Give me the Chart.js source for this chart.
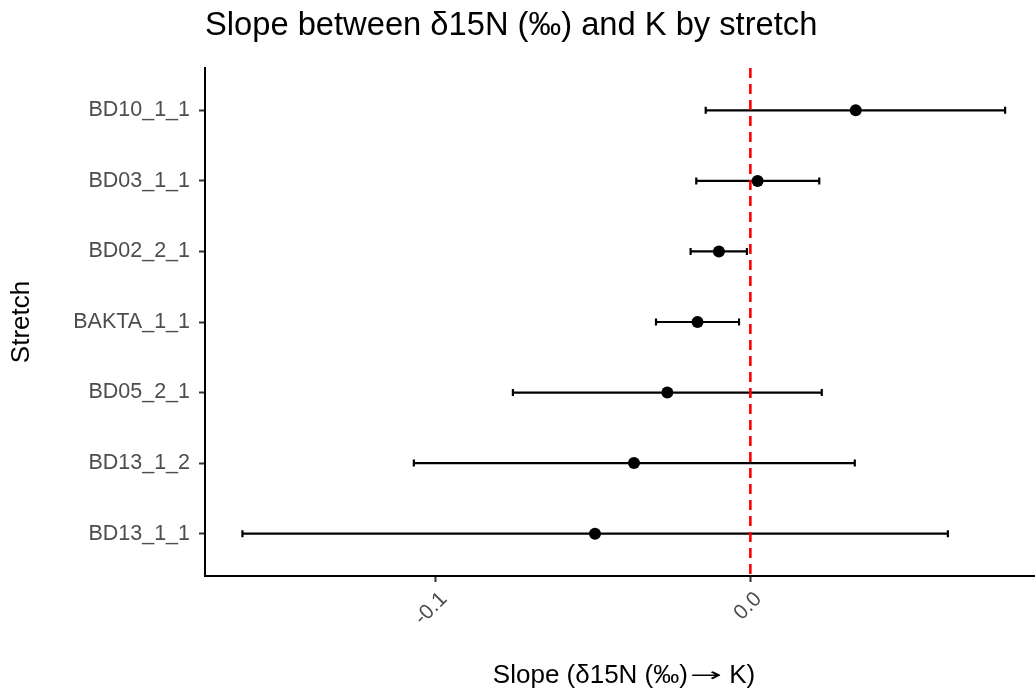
<!DOCTYPE html>
<html><head><meta charset="utf-8">
<script src="https://cdn.jsdelivr.net/npm/chart.js@4"></script>
<style>html,body{margin:0;padding:0;background:#fff}#wrap{width:1035px;height:697px}</style>
</head><body><div id="wrap"><canvas id="c" width="1035" height="697"></canvas></div>
<script>
const stretches = ['BD10_1_1','BD03_1_1','BD02_2_1','BAKTA_1_1','BD05_2_1','BD13_1_2','BD13_1_1'];
const estimates = [0.0335, 0.0023, -0.0100, -0.0168, -0.0264, -0.0370, -0.0494];
const lowerCI = [-0.0142, -0.0172, -0.0190, -0.0300, -0.0755, -0.1070, -0.1615];
const upperCI = [0.0810, 0.0219, -0.0011, -0.0036, 0.0227, 0.0332, 0.0628];
const xTicks = [-0.1, 0.0];
const refValue = 0;
const titleText = 'Slope between δ15N (‰) and K by stretch';
const xTitleParts = ['Slope (δ15N (‰)', '→', ' K)'];
const yTitle = 'Stretch';

const FONT = "'Liberation Sans', Arial, sans-serif";

const pts = stretches.map((s, i) => ({x: estimates[i], y: i}));

const errorBarPlugin = {
  id: 'errorBars',
  beforeDatasetsDraw(chart) {
    const {ctx, chartArea} = chart;
    const x = chart.scales.x, y = chart.scales.y;
    ctx.save();
    ctx.strokeStyle = '#000';
    ctx.lineWidth = 2.2;
    stretches.forEach((s, i) => {
      const py = y.getPixelForValue(i);
      const x0 = x.getPixelForValue(lowerCI[i]);
      const x1 = x.getPixelForValue(upperCI[i]);
      ctx.beginPath();
      ctx.moveTo(x0, py); ctx.lineTo(x1, py);
      ctx.moveTo(x0, py - 3.5); ctx.lineTo(x0, py + 3.5);
      ctx.moveTo(x1, py - 3.5); ctx.lineTo(x1, py + 3.5);
      ctx.stroke();
    });
    const zx = x.getPixelForValue(refValue);
    ctx.strokeStyle = '#ff0000';
    ctx.lineWidth = 2.6;
    ctx.setLineDash([10, 6]);
    ctx.beginPath();
    ctx.moveTo(zx, chartArea.top); ctx.lineTo(zx, chartArea.bottom);
    ctx.stroke();
    ctx.restore();
  },
  afterDraw(chart) {
    const {ctx, chartArea} = chart;
    ctx.save();
    // main title, aligned with the panel's left edge
    ctx.font = '32.7px ' + FONT;
    ctx.fillStyle = '#000';
    ctx.textAlign = 'left';
    ctx.textBaseline = 'alphabetic';
    ctx.fillText(titleText, chartArea.left, 35);
    // x-axis title (mixed fonts for the arrow)
    const fMain = '26px ' + FONT;
    const fArrow = "26px 'DejaVu Sans'";
    const arrowW = 32;
    ctx.font = fMain;
    const w0 = ctx.measureText(xTitleParts[0]).width;
    const w2 = ctx.measureText(xTitleParts[2]).width;
    ctx.font = fArrow;
    const wa = ctx.measureText(xTitleParts[1]).width;
    const total = w0 + 2 + arrowW + w2;
    let sx = (chartArea.left + chartArea.right) / 2 + 4 - total / 2;
    const by = 683;
    ctx.font = fMain;
    ctx.fillText(xTitleParts[0], sx, by);
    sx += w0 + 2;
    ctx.save();
    ctx.translate(sx, by - 2);
    ctx.scale(arrowW / wa, 0.72);
    ctx.font = fArrow;
    ctx.fillText(xTitleParts[1], 0, 0);
    ctx.restore();
    sx += arrowW;
    ctx.font = fMain;
    ctx.fillText(xTitleParts[2], sx, by);
    ctx.restore();
  }
};

new Chart(document.getElementById('c'), {
  type: 'scatter',
  data: {
    datasets: [{
      data: pts,
      backgroundColor: '#000',
      borderColor: '#000',
      pointRadius: 6,
      pointHoverRadius: 6,
      borderWidth: 0
    }]
  },
  options: {
    responsive: false,
    devicePixelRatio: 1,
    animation: false,
    events: [],
    layout: {autoPadding: false, padding: {top: 68, right: 0, bottom: 0, left: 0}},
    plugins: {legend: {display: false}, tooltip: {enabled: false}, title: {display: false}},
    scales: {
      x: {
        type: 'linear',
        position: 'bottom',
        min: -0.1734,
        max: 0.0905,
        afterFit(s) { s.height = 121; s.paddingRight = 0; s.paddingLeft = 0; },
        afterBuildTicks(s) { s.ticks = xTicks.map(v => ({value: v})); },
        ticks: {
          minRotation: 45, maxRotation: 45,
          color: '#4d4d4d',
          font: {family: FONT, size: 21},
          padding: 5,
          labelOffset: 8,
          callback: v => Number(v).toFixed(1)
        },
        grid: {drawOnChartArea: false, drawTicks: true, tickLength: 6, tickColor: '#333', tickWidth: 2},
        border: {display: true, color: '#000', width: 2},
        title: {display: false}
      },
      y: {
        type: 'linear',
        reverse: true,
        min: -0.6,
        max: 6.6,
        afterFit(s) { s.width = 205; s.paddingTop = 0; s.paddingBottom = 0; },
        afterBuildTicks(s) { s.ticks = stretches.map((c, i) => ({value: i})); },
        ticks: {
          color: '#4d4d4d',
          font: {family: FONT, size: 21.5},
          padding: 9,
          callback: v => stretches[v]
        },
        grid: {drawOnChartArea: false, drawTicks: true, tickLength: 6, tickColor: '#333', tickWidth: 2},
        border: {display: true, color: '#000', width: 2},
        title: {display: true, text: yTitle, color: '#000', font: {family: FONT, size: 26}, padding: {top: 6, bottom: 0}}
      }
    }
  },
  plugins: [errorBarPlugin]
});
</script>
</body></html>
